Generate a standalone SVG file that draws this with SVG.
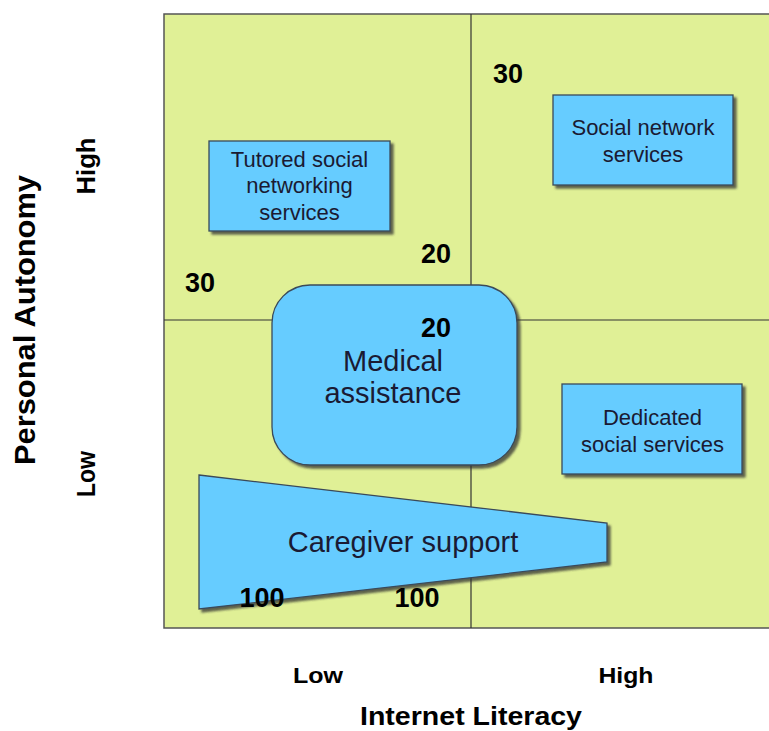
<svg xmlns="http://www.w3.org/2000/svg" width="769" height="731" viewBox="0 0 769 731">
  <style>
    .quad { fill: #e0f096; stroke: #555; stroke-width: 1.5; }
    .divider { stroke: #333; stroke-width: 1.2; fill: none; }
    .shape { fill: #66ccff; stroke: #3a4a5a; stroke-width: 1.3; filter: url(#shadow); }
    .label { font-family: "Liberation Sans", Arial, sans-serif; fill: #1a1a33; text-anchor: middle; }
    .num { font-family: "Liberation Sans", Arial, sans-serif; font-weight: bold; fill: #000; text-anchor: middle; font-size: 27px; }
    .axis { font-family: "Liberation Sans", Arial, sans-serif; font-weight: bold; fill: #000; text-anchor: middle; }
  </style>
  <defs>
    <filter id="shadow" x="-10%" y="-10%" width="130%" height="130%">
      <feDropShadow dx="3" dy="3" stdDeviation="1" flood-color="#333" flood-opacity="0.75"/>
    </filter>
  </defs>

  <rect width="769" height="731" fill="#fff"/>

  <!-- quadrant grid -->
  <g id="grid">
    <rect class="quad" x="164" y="14" width="620" height="614"/>
    <line class="divider" x1="471" y1="14" x2="471" y2="628"/>
    <line class="divider" x1="164" y1="320" x2="769" y2="320"/>
  </g>

  <!-- axis captions -->
  <g id="axes">
    <text class="axis" font-size="30" transform="translate(35,320) rotate(-90)" textLength="290" lengthAdjust="spacingAndGlyphs">Personal Autonomy</text>
    <text class="axis" font-size="25" transform="translate(95,166) rotate(-90)" textLength="57" lengthAdjust="spacingAndGlyphs">High</text>
    <text class="axis" font-size="25" transform="translate(95,474) rotate(-90)" textLength="46" lengthAdjust="spacingAndGlyphs">Low</text>
    <text class="axis" font-size="22" x="318" y="683" textLength="50" lengthAdjust="spacingAndGlyphs">Low</text>
    <text class="axis" font-size="22" x="626" y="683" textLength="55" lengthAdjust="spacingAndGlyphs">High</text>
    <text class="axis" font-size="26" x="471" y="725" textLength="222" lengthAdjust="spacingAndGlyphs">Internet Literacy</text>
  </g>

  <g id="tutored">
    <rect class="shape" x="209" y="141" width="181" height="90"/>
    <text class="label" font-size="22" x="299.5" y="167">Tutored social</text>
    <text class="label" font-size="22" x="299.5" y="193">networking</text>
    <text class="label" font-size="22" x="299.5" y="220">services</text>
  </g>

  <g id="social-network">
    <rect class="shape" x="553" y="95" width="180" height="90"/>
    <text class="label" font-size="22" x="643" y="135">Social network</text>
    <text class="label" font-size="22" x="643" y="162">services</text>
  </g>

  <g id="dedicated">
    <rect class="shape" x="562" y="384" width="180" height="90"/>
    <text class="label" font-size="22" x="652.5" y="425">Dedicated</text>
    <text class="label" font-size="22" x="652.5" y="452">social services</text>
  </g>

  <g id="caregiver">
    <polygon class="shape" points="199,475 607,523 607,562 199,609"/>
    <text class="label" font-size="29" x="403" y="552">Caregiver support</text>
  </g>

  <g id="medical">
    <rect class="shape" x="272" y="285" width="245" height="180" rx="38" ry="38"/>
    <text class="label" font-size="29" x="393" y="371">Medical</text>
    <text class="label" font-size="29" x="393" y="403">assistance</text>
  </g>

  <!-- weights -->
  <g id="weights">
    <text class="num" x="200" y="292">30</text>
    <text class="num" x="436" y="263">20</text>
    <text class="num" x="436" y="337">20</text>
    <text class="num" x="508" y="83">30</text>
    <text class="num" x="262" y="607">100</text>
    <text class="num" x="417" y="607">100</text>
  </g>
</svg>
